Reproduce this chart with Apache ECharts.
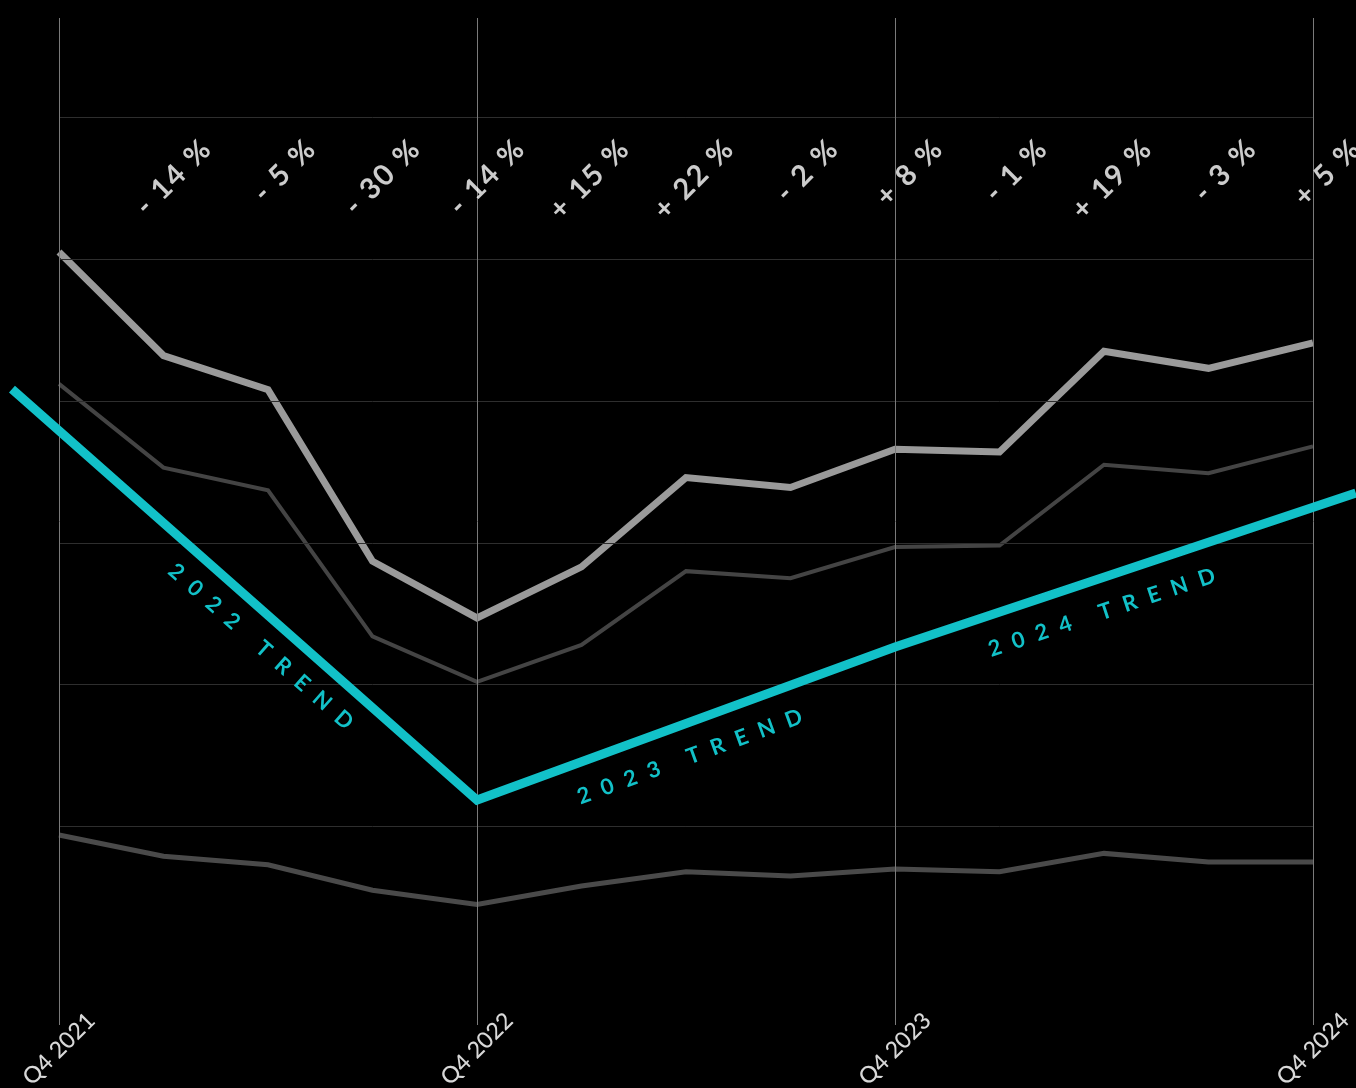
<!DOCTYPE html>
<html>
<head>
<meta charset="utf-8">
<script src="https://cdn.jsdelivr.net/npm/echarts@6/dist/echarts.min.js"></script>
<style>
html,body{margin:0;padding:0;background:#000;overflow:hidden;}
#chart{width:1356px;height:1088px;}
</style>
</head>
<body>
<div id="chart"></div>
<script>
// ---- data ----
const quarters = ['Q4 2021','Q1 2022','Q2 2022','Q3 2022','Q4 2022','Q1 2023','Q2 2023','Q3 2023','Q4 2023','Q1 2024','Q2 2024','Q3 2024','Q4 2024'];
const seriesTop = [50.5, 43.2, 40.8, 28.7, 24.7, 28.3, 34.6, 33.9, 36.6, 36.4, 43.5, 42.3, 44.1];
const seriesMid = [41.2, 35.3, 33.7, 23.4, 20.2, 22.8, 28.0, 27.5, 29.7, 29.8, 35.5, 34.9, 36.8];
const seriesLow = [9.4, 7.9, 7.3, 5.5, 4.5, 5.8, 6.8, 6.5, 7.0, 6.8, 8.1, 7.5, 7.5];
const pctLabels = ['- 14 %','- 5 %','- 30 %','- 14 %','+ 15 %','+ 22 %','- 2 %','+ 8 %','- 1 %','+ 19 %','- 3 %','+ 5 %'];
const yearTicks = [0, 4, 8, 12];
const trendX = [-0.45, 4, 8, 12.41];
const trendY = [40.84, 11.86, 22.65, 33.5];
const trendLabels = ['2022 TREND','2023 TREND','2024 TREND'];
const yGridValues = [10, 20, 30, 40, 50, 60];

// letter spacing for captions (canvas letterSpacing)
(function(){
  const orig = CanvasRenderingContext2D.prototype.fillText;
  CanvasRenderingContext2D.prototype.fillText = function(t, x, y, w){
    let ls = null;
    if (typeof t === 'string') {
      if (/TREND$/.test(t)) ls = '12px';
      else if (/%$/.test(t)) ls = '2px';
    }
    if (ls) {
      const prev = this.letterSpacing;
      this.letterSpacing = ls;
      if (w === undefined) orig.call(this, t, x, y); else orig.call(this, t, x, y, w);
      this.letterSpacing = prev || '0px';
      return;
    }
    if (w === undefined) return orig.call(this, t, x, y);
    return orig.call(this, t, x, y, w);
  };
})();

// y of the trend polyline at a given x (for caption anchoring)
function trendAt(x){
  for (let k = 0; k < trendX.length - 1; k++) {
    if (x >= trendX[k] && x <= trendX[k+1]) {
      const t = (x - trendX[k]) / (trendX[k+1] - trendX[k]);
      return trendY[k] + t * (trendY[k+1] - trendY[k]);
    }
  }
  return trendY[trendY.length - 1];
}

const FONT = 'Lato, "Noto Sans", sans-serif';
const LABEL_LEVEL = 58.1;
const X_MIN = -0.5646, X_MAX = 12.4115;
const CAPTION_SHIFT = [6, 6, 0];

const chart = echarts.init(document.getElementById('chart'), null, {renderer:'canvas', width:1356, height:1088});
const option = {
  backgroundColor: '#000',
  animation: false,
  grid: {left: 0, right: 0, top: 18, height: 1007, containLabel: false, outerBoundsMode: 'none'},
  xAxis: {
    type: 'value', min: X_MIN, max: X_MAX,
    axisLine: {show: false}, axisTick: {show: false},
    splitLine: {show: false},
    axisLabel: {
      show: true, customValues: yearTicks, rotate: 45, align: 'center', verticalAlign: 'middle', margin: 24,
      color: '#d8d8d8', fontSize: 23, fontFamily: FONT, fontWeight: 500,
      formatter: v => quarters[Math.round(v)] || ''
    }
  },
  yAxis: {
    type: 'value', min: -4, max: 67, show: false,
    splitLine: {show: false}
  },
  series: [
    {
      type: 'line', name: 'grid', data: [], silent: true,
      markLine: {
        silent: true, symbol: ['none','none'], label: {show: false},
        data: yGridValues.map(v => [
          {coord: [0, v], lineStyle: {color: '#2e2e2e', width: 1, type: 'solid'}},
          {coord: [quarters.length - 1, v]}
        ]).concat(yearTicks.map(x => ({xAxis: x, lineStyle: {color: '#7a7a7a', width: 1, type: 'solid'}})))
      }
    },
    {
      type: 'line', name: 'low', data: seriesLow.map((v,i)=>[i,v]),
      showSymbol: false, lineStyle: {color: '#4a4a4a', width: 5, join: 'miter'}, z: 3
    },
    {
      type: 'line', name: 'mid', data: seriesMid.map((v,i)=>[i,v]),
      showSymbol: false, lineStyle: {color: '#444444', width: 4, join: 'miter'}, z: 3
    },
    {
      type: 'line', name: 'top', data: seriesTop.map((v,i)=>[i,v]),
      showSymbol: false, lineStyle: {color: '#9a9a9a', width: 7, join: 'miter'}, z: 4
    },
    {
      type: 'line', name: 'trend',
      data: trendX.map((x,i)=>[x, trendY[i]]),
      showSymbol: false, lineStyle: {color: '#12c1c8', width: 9, join: 'miter'}, z: 5,
      markLine: {
        silent: true, symbol: ['none','none'],
        lineStyle: {color: 'rgba(0,0,0,0)', width: 0},
        label: {
          show: true, position: 'insideMiddleBottom', distance: 23,
          color: '#12c1c8', fontSize: 22, fontWeight: 'bold', fontFamily: FONT,
          formatter: p => trendLabels[p.dataIndex]
        },
        data: trendLabels.map((t,k)=>[
          {coord: [yearTicks[k], trendAt(yearTicks[k])], label: {offset: [CAPTION_SHIFT[k], 0]}},
          {coord: [yearTicks[k+1], trendAt(yearTicks[k+1])]}
        ])
      }
    },
    {
      type: 'scatter', name: 'pct', z: 6,
      symbolSize: 1, itemStyle: {color: 'rgba(0,0,0,0)'},
      data: pctLabels.map((t,k)=>[k+1, LABEL_LEVEL]),
      label: {
        show: true, position: [44, 0], align: 'right', verticalAlign: 'middle', rotate: 45,
        color: '#ffffff', fontSize: 29, fontWeight: 'bold', fontFamily: FONT,
        formatter: p => pctLabels[p.dataIndex]
      }
    }
  ]
};
chart.setOption(option);
</script>
</body>
</html>
